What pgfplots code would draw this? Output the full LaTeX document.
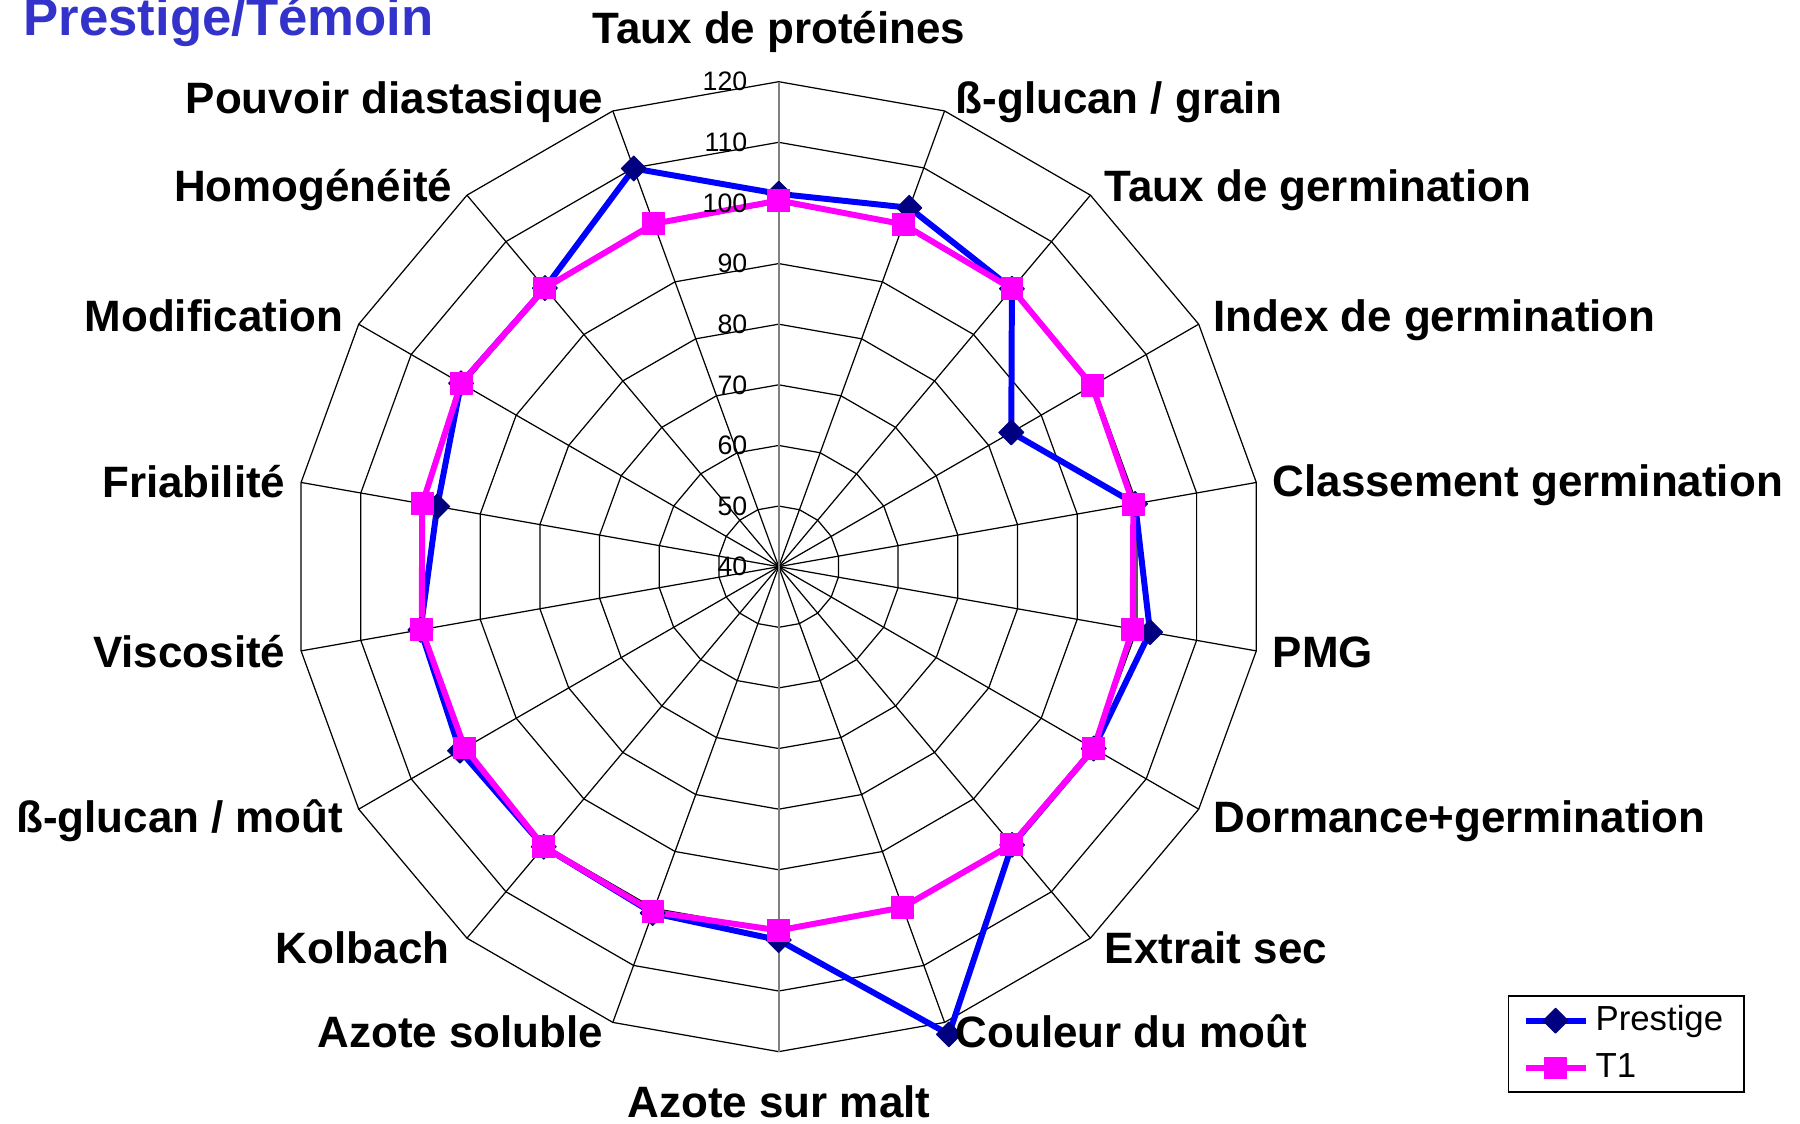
\documentclass[border=0pt]{standalone}
\usepackage{fontspec}
\setmainfont{Liberation Sans}
\usepackage{pgfplots}
\usepackage{pgfplotstable}
\pgfplotsset{compat=1.18}
\definecolor{navy}{RGB}{0,0,128}
\definecolor{pblue}{RGB}{0,0,255}
\definecolor{pmag}{RGB}{255,0,255}
\definecolor{titleblue}{RGB}{51,51,204}
\definecolor{axgray}{RGB}{128,128,128}

% angle (deg), Prestige, T1 ; categories clockwise from top
\pgfplotstableread{
a p t
90 101.5 100.4
70 103.0 100.1
50 99.85 99.85
30 84.3 99.7
10 99.7 99.4
-10 102.2 99.3
-30 100.0 100.0
-50 99.9 99.8
-70 122.1 99.8
-90 101.6 100.0
-110 100.8 100.6
-130 100.3 100.3
-150 100.7 99.8
-170 100.0 99.8
-190 97.2 99.7
-210 100.5 100.5
-230 100.0 100.0
-250 109.9 100.2
-270 101.5 100.4
}\radardata

\pgfplotstableread{
a d
90 0
70 0
50 0
30 0
10 0
-10 0
-30 0
-50 0
-70 0
-90 0
-110 0
-130 0
-150 0
-170 0
-190 0
-210 0
-230 0
-250 0
-270 0
}\ringangles

\pgfplotstableread{
r d
40 0
120 0
}\spoke

\begin{document}
\begin{tikzpicture}[x=1cm,y=1cm]
\useasboundingbox (0,0) rectangle (18,11.24);
\begin{axis}[
  at={(7.787cm,5.573cm)}, anchor=center,
  x=0.060625cm, y=0.060625cm,
  xmin=-80, xmax=80, ymin=-80, ymax=80,
  hide axis, clip=false,
  legend style={at={(1.2515,-0.0423)}, anchor=south west, draw=black,
    line width=0.5pt, font=\fontsize{9.9}{12}\selectfont, row sep=1pt,
    inner xsep=4pt, inner ysep=0.6pt},
  legend cell align=left,
]
% rings
\pgfplotsinvokeforeach{50,60,...,120}{
  \addplot[black, line width=0.35pt, no markers, forget plot]
    table[x expr={(#1-40)*cos(\thisrow{a})}, y expr={(#1-40)*sin(\thisrow{a})}] {\ringangles};
}
% spokes
\pgfplotsinvokeforeach{70,50,30,10,-10,-30,-50,-70,-110,-130,-150,-170,170,150,130,110}{
  \addplot[black, line width=0.35pt, no markers, forget plot]
    table[x expr={(\thisrow{r}-40)*cos(#1)}, y expr={(\thisrow{r}-40)*sin(#1)}] {\spoke};
}
\pgfplotsinvokeforeach{90,-90}{
  \addplot[axgray, line width=0.6pt, no markers, forget plot]
    table[x expr={(\thisrow{r}-40)*cos(#1)}, y expr={(\thisrow{r}-40)*sin(#1)}] {\spoke};
}
% data
\addplot[pblue, line width=1.7pt, line join=round, mark=square*, mark size=2.5pt,
  mark options={rotate=45, fill=navy, draw=navy, solid, line width=0.3pt}]
  table[x expr={(\thisrow{p}-40)*cos(\thisrow{a})}, y expr={(\thisrow{p}-40)*sin(\thisrow{a})}] {\radardata};
\addlegendentry{Prestige}
\addplot[pmag, line width=1.7pt, line join=round, mark=square*, mark size=3.1pt,
  mark options={fill=pmag, draw=pmag, solid, line width=0.3pt}]
  table[x expr={(\thisrow{t}-40)*cos(\thisrow{a})}, y expr={(\thisrow{t}-40)*sin(\thisrow{a})}] {\radardata};
\addlegendentry{T1}
\end{axis}

% radial tick labels
\foreach \v in {40,50,...,120}
  \node[anchor=east, inner sep=0pt, font=\fontsize{7.6}{9}\selectfont] at (7.48,{5.573+(\v-40)*0.060625}) {\v};

% title
\node[anchor=base west, inner sep=0pt, text=titleblue, font=\bfseries\fontsize{15}{18}\selectfont] at (0.23,10.884) {Prestige/Témoin};

% category labels
\begin{scope}[every node/.style={inner sep=0pt, font=\bfseries\fontsize{12.5}{14}\selectfont}]
\node[anchor=base] at (7.79,10.805) {Taux de protéines};
\node[anchor=base west] at (9.55,10.104) {ß-glucan / grain};
\node[anchor=base west] at (11.04,9.22) {Taux de germination};
\node[anchor=base west] at (12.13,7.923) {Index de germination};
\node[anchor=base west] at (12.72,6.27) {Classement germination};
\node[anchor=base west] at (12.72,4.56) {PMG};
\node[anchor=base west] at (12.13,2.91) {Dormance+germination};
\node[anchor=base west] at (11.04,1.60) {Extrait sec};
\node[anchor=base west] at (9.55,0.76) {Couleur du moût};
\node[anchor=base] at (7.79,0.06) {Azote sur malt};
\node[anchor=base east] at (6.04,0.76) {Azote soluble};
\node[anchor=base east] at (4.50,1.60) {Kolbach};
\node[anchor=base east] at (3.44,2.91) {ß-glucan / moût};
\node[anchor=base east] at (2.86,4.56) {Viscosité};
\node[anchor=base east] at (2.86,6.26) {Friabilité};
\node[anchor=base east] at (3.44,7.923) {Modification};
\node[anchor=base east] at (4.53,9.22) {Homogénéité};
\node[anchor=base east] at (6.04,10.104) {Pouvoir diastasique};
\end{scope}
\end{tikzpicture}
\end{document}
